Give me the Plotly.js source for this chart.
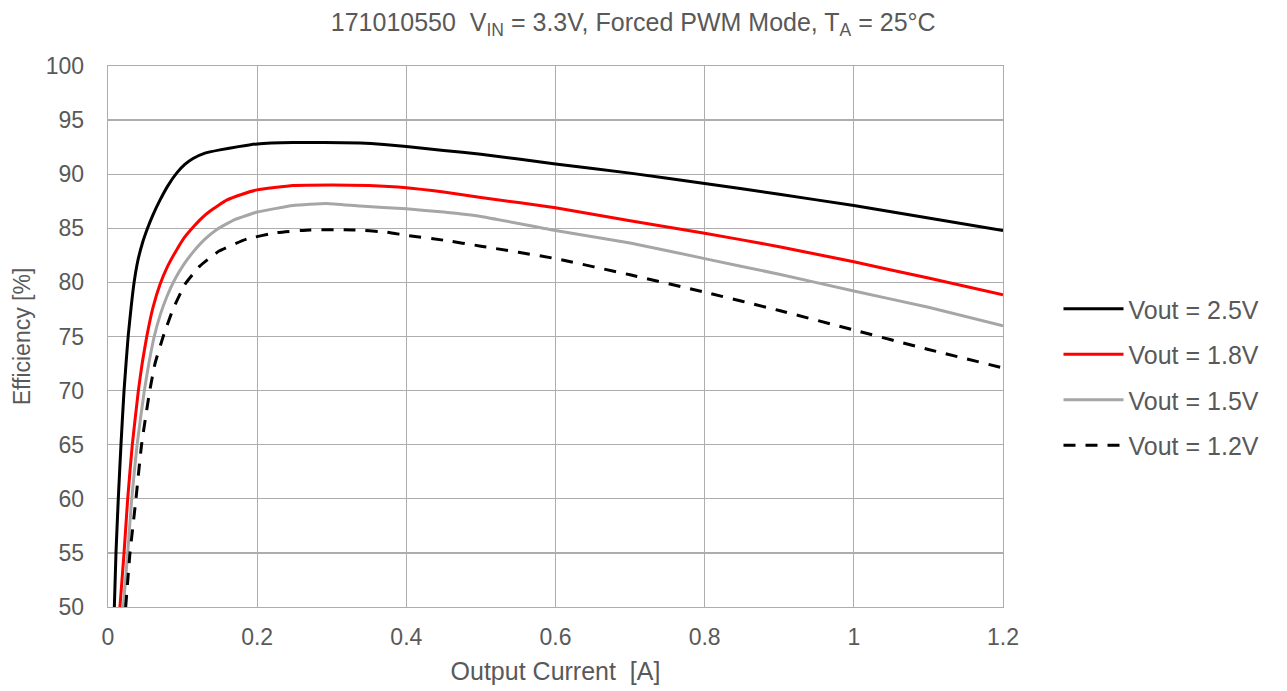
<!DOCTYPE html>
<html>
<head>
<meta charset="utf-8">
<script src="https://cdn.plot.ly/plotly-3.0.1.min.js"></script>
<style>html,body{margin:0;padding:0;background:#fff;}#chart{width:1287px;height:691px;}</style>
</head>
<body>
<div id="chart"></div>
<script>
// Output current [A] and efficiency [%] per series
const x25 = [0.0085,0.0107,0.0138,0.0174,0.0215,0.027,0.031,0.035,0.040,0.046,0.053,0.060,0.0697,0.080,0.092,0.103,0.114,0.130,0.150,0.175,0.20,0.248,0.29,0.338,0.37,0.40,0.45,0.50,0.60,0.70,0.80,0.90,1.00,1.10,1.20];
const y25 = [50,55,60,65,70,75,77.7,80,82,83.6,85,86.2,87.6,88.9,90.1,90.9,91.45,91.95,92.25,92.55,92.8,92.93,92.92,92.88,92.75,92.55,92.2,91.85,90.95,90.1,89.15,88.15,87.1,85.95,84.8];

const x18 = [0.016,0.0215,0.0264,0.0326,0.0407,0.046,0.052,0.060,0.0697,0.080,0.092,0.103,0.114,0.125,0.137,0.159,0.180,0.20,0.248,0.30,0.35,0.40,0.45,0.50,0.60,0.70,0.80,0.90,1.00,1.10,1.20];
const y18 = [50,55,60,65,70,72.6,75,77.6,79.8,81.5,83.0,84.2,85.1,85.9,86.6,87.6,88.15,88.55,88.95,89.0,88.95,88.75,88.35,87.85,86.9,85.7,84.55,83.3,81.9,80.4,78.85];

const x15 = [0.0205,0.0264,0.0318,0.039,0.0487,0.055,0.062,0.070,0.079,0.089,0.101,0.114,0.130,0.146,0.170,0.20,0.248,0.293,0.338,0.40,0.45,0.50,0.60,0.70,0.80,0.90,1.00,1.10,1.20];
const y15 = [50,55,60,65,70,72.6,75,77,78.7,80.2,81.6,82.8,84.0,84.9,85.8,86.5,87.1,87.3,87.05,86.8,86.5,86.1,84.8,83.65,82.2,80.75,79.2,77.7,76.0];

const x12 = [0.0237,0.0295,0.0375,0.045,0.056,0.063,0.074,0.087,0.103,0.123,0.149,0.186,0.226,0.271,0.329,0.373,0.40,0.45,0.50,0.60,0.70,0.80,0.90,1.00,1.10,1.20];
const y12 = [50,55,60,65,70,72.5,75,77.5,79.8,81.5,82.9,84.0,84.6,84.85,84.85,84.65,84.35,83.9,83.35,82.2,80.7,79.1,77.4,75.6,73.8,72.1];

const seriesNames = ["Vout = 2.5V","Vout = 1.8V","Vout = 1.5V","Vout = 1.2V"];
const xTicks = [0,0.2,0.4,0.6,0.8,1,1.2];
const xTickText = ["0","0.2","0.4","0.6","0.8","1","1.2"];
const yTicks = [50,55,60,65,70,75,80,85,90,95,100];

const FONT = "Liberation Sans, Arial, sans-serif";
const TXT = "#595959";
const GRID = "#adadad";

function tr(x, y, name, color, dash, i) {
  return {
    x: x, y: y, name: name, type: "scatter", mode: "lines",
    line: {color: color, width: 3, dash: dash, shape: "spline", smoothing: 0.4},
    legendgroup: "g" + i
  };
}

const data = [
  tr(x25, y25, seriesNames[0], "#000000", "solid", 0),
  tr(x18, y18, seriesNames[1], "#ff0000", "solid", 1),
  tr(x15, y15, seriesNames[2], "#a6a6a6", "solid", 2),
  tr(x12, y12, seriesNames[3], "#000000", "12px,10px", 3)
];

const layout = {
  width: 1287, height: 691,
  paper_bgcolor: "#ffffff", plot_bgcolor: "#ffffff",
  margin: {l: 108, r: 284, t: 66, b: 84},
  font: {family: FONT, color: TXT, size: 23},
  title: {
    text: "171010550  V<sub>IN</sub> = 3.3V, Forced PWM Mode, T<sub>A</sub> = 25°C",
    font: {family: FONT, size: 25, color: TXT},
    x: 0.492, xref: "container", xanchor: "center",
    y: 0.968, yref: "container", yanchor: "middle"
  },
  xaxis: {
    range: [0, 1.2], tickvals: xTicks, ticktext: xTickText,
    showgrid: true, gridcolor: GRID, gridwidth: 1.3,
    showline: true, linecolor: GRID, linewidth: 1.3, mirror: true,
    zeroline: false, ticks: "", ticklabelstandoff: 9,
    tickfont: {family: FONT, size: 23, color: TXT},
    title: {text: "Output Current  [A]", font: {family: FONT, size: 25, color: TXT}, standoff: 13}
  },
  yaxis: {
    range: [50, 100], tickvals: yTicks,
    showgrid: true, gridcolor: GRID, gridwidth: 1.3,
    showline: true, linecolor: GRID, linewidth: 1.3, mirror: true,
    zeroline: false, ticks: "", ticklabelstandoff: 18,
    tickfont: {family: FONT, size: 23, color: TXT},
    title: {text: "Efficiency [%]", font: {family: FONT, size: 23, color: TXT}, standoff: 8}
  },
  legend: {
    x: 1.062, xanchor: "left", y: 0.425, yanchor: "middle",
    font: {family: FONT, size: 25, color: TXT},
    tracegroupgap: 10, traceorder: "grouped",
    itemwidth: 60, bgcolor: "rgba(0,0,0,0)"
  },
  showlegend: true
};

Plotly.newPlot("chart", data, layout, {displayModeBar: false, staticPlot: true});
</script>
</body>
</html>
